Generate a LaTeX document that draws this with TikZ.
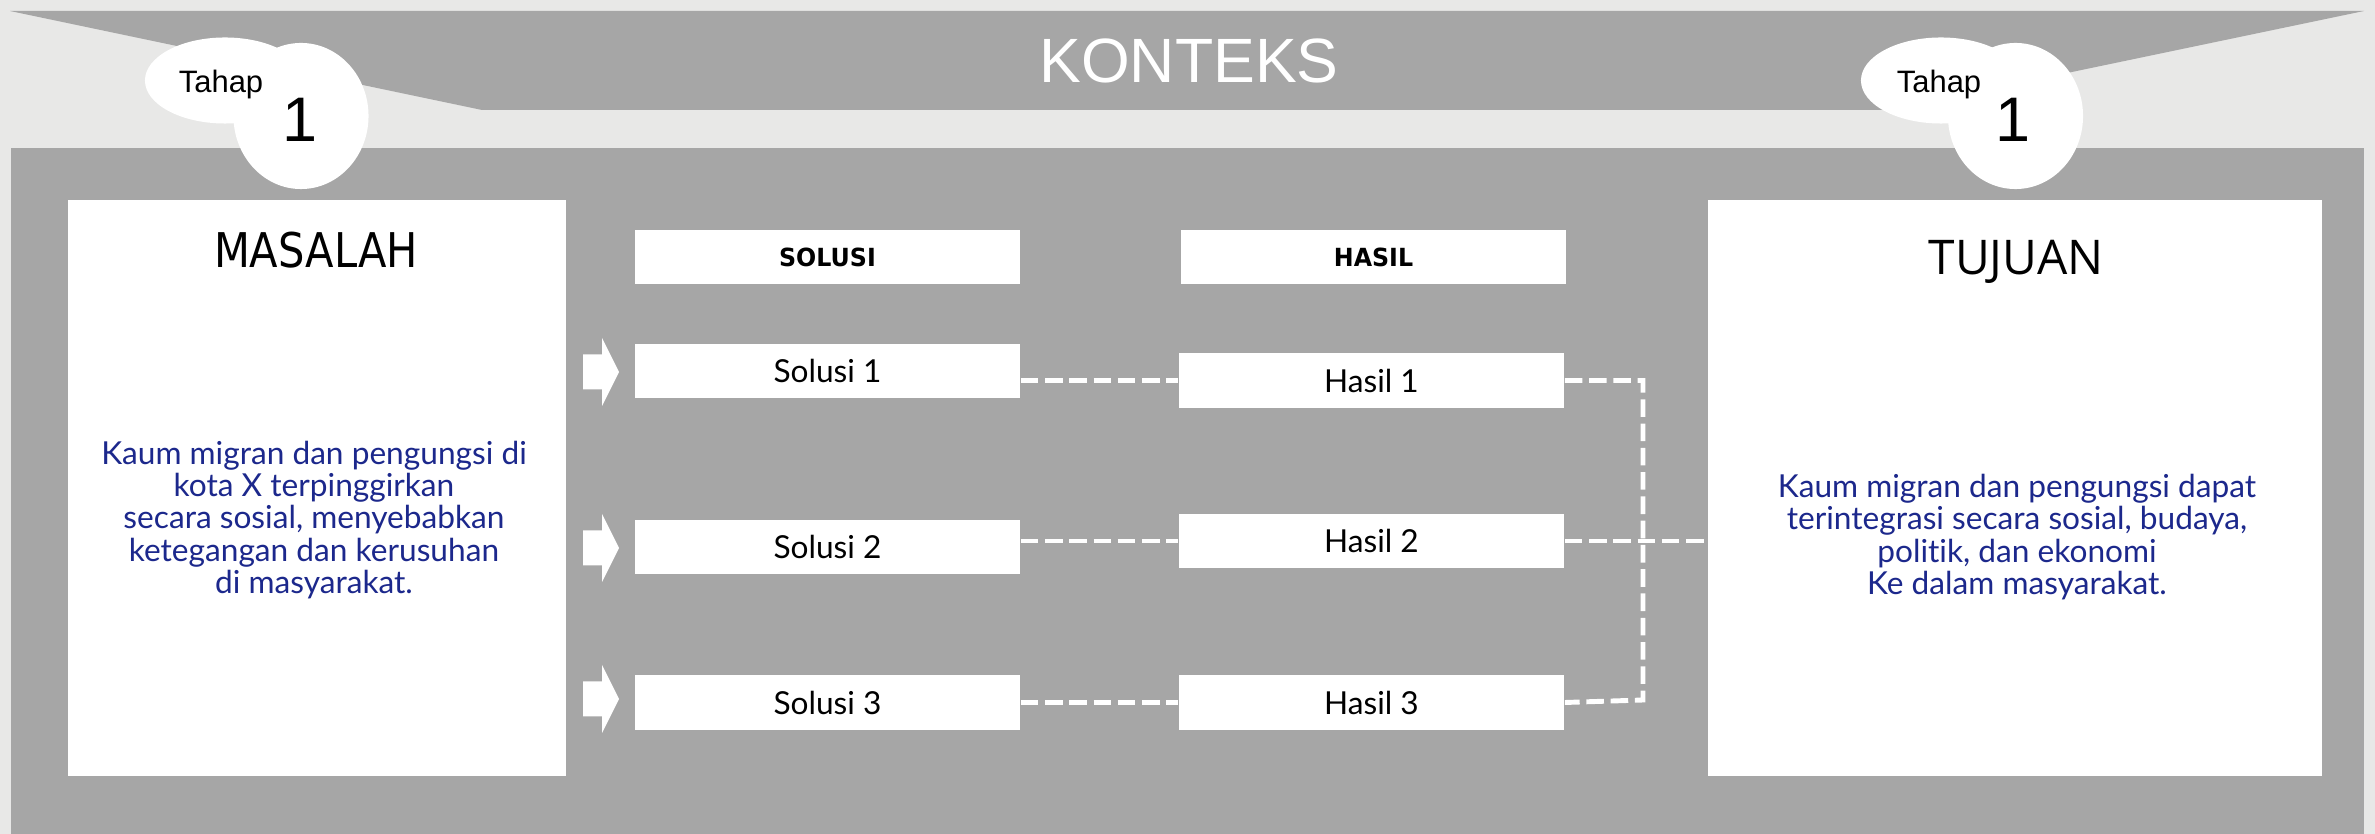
\documentclass[tikz,border=0pt]{standalone}
\usepackage{fontspec}
\setmainfont{Liberation Sans}
\newfontfamily\arialf{Liberation Sans}
\newfontfamily\tahomaf[FakeStretch=0.87]{DejaVu Sans}
\newfontfamily\tahomabf[FakeStretch=0.95]{DejaVu Sans Bold}
\newfontfamily\segoef{Open Sans}
\newfontfamily\handf[Ligatures=NoCommon]{Lato}
\usetikzlibrary{shapes.geometric}
\definecolor{bgpage}{HTML}{E8E8E7}
\definecolor{panel}{HTML}{A6A6A6}
\definecolor{inkblue}{RGB}{28,40,140}
\tikzset{
  smallbox/.style={fill=white, draw=none, inner sep=0pt, minimum width=3.85cm, minimum height=0.54cm},
  bigbox/.style={fill=white, draw=none, inner sep=0pt, minimum height=5.76cm},
  headtxt/.style={font=\tahomabf\fontsize{7.1}{8}\selectfont},
  itemtxt/.style={font=\handf\fontsize{9}{10}\selectfont},
  bluetxt/.style={font=\handf\fontsize{9.0}{9.15}\selectfont, text=inkblue, align=center, inner sep=0pt},
  wdash/.style={draw=white, line width=1.4pt, dash pattern=on 5pt off 1.9pt},
  bubble/.style={ellipse, fill=white, draw=none, inner sep=0pt},
  blockarrow/.pic={\fill[white] (-19,-17.5) -- (0,-17.5) -- (0,-34) -- (17,0) -- (0,34) -- (0,17.5) -- (-19,17.5) -- cycle;}
}
\begin{document}
\begin{tikzpicture}[x=0.01cm, y=-0.01cm]
\useasboundingbox (0,0) rectangle (2375,834);
\fill[bgpage] (0,0) rectangle (2375,834);
% banner
\fill[panel] (10,11) -- (2364,11) -- (1890,110) -- (482,110) -- cycle;
\node[anchor=base, text=white, font=\arialf\fontsize{17.8}{20}\selectfont, inner sep=0pt] (konteks) at (1189,83) {KONTEKS};
% main panel
\fill[panel] (11,148) rectangle (2364,834);
% bubbles
\node[bubble, minimum width=1.6cm, minimum height=0.86cm] (lsmall) at (225,80.5) {};
\node[bubble, minimum width=1.35cm, minimum height=1.46cm] (lbig) at (301,116) {};
\node[bubble, minimum width=1.6cm, minimum height=0.86cm] (rsmall) at (1941,80.5) {};
\node[bubble, minimum width=1.35cm, minimum height=1.46cm] (rbig) at (2015.5,116) {};
\node[anchor=base, font=\arialf\fontsize{8.8}{10}\selectfont, inner sep=0pt] (ltahap) at (221,93) {Tahap};
\node[anchor=base, font=\arialf\fontsize{17.9}{20}\selectfont, inner sep=0pt] (lone) at (300,142) {1};
\node[anchor=base, font=\arialf\fontsize{8.8}{10}\selectfont, inner sep=0pt] (rtahap) at (1939,93) {Tahap};
\node[anchor=base, font=\arialf\fontsize{17.9}{20}\selectfont, inner sep=0pt] (rone) at (2013,142) {1};
% big boxes
\node[bigbox, minimum width=4.98cm] (masalah) at (317,488) {};
\node[bigbox, minimum width=6.14cm] (tujuan) at (2015,488) {};
\node[anchor=base, font=\tahomaf\fontsize{13.6}{16}\selectfont, inner sep=0pt] (masalahT) at (316,268) {MASALAH};
\node[anchor=base, font=\segoef\fontsize{13.6}{16}\selectfont, inner sep=0pt] (tujuanT) at (2016,275) {TUJUAN};
\node[bluetxt] (masalahX) at (314,520) {Kaum migran dan pengungsi di\\kota X terpinggirkan\\secara sosial, menyebabkan\\ketegangan dan kerusuhan\\di masyarakat.};
\node[bluetxt] (tujuanX) at (2017,537) {Kaum migran dan pengungsi dapat\\terintegrasi secara sosial, budaya,\\politik, dan ekonomi\\Ke dalam masyarakat.};
% headers
\node[smallbox, headtxt] (solusiH) at (827.5,257) {SOLUSI};
\node[smallbox, headtxt] (hasilH) at (1373.5,257) {HASIL};
% items
\node[smallbox, itemtxt] (s1) at (827.5,371) {Solusi 1};
\node[smallbox, itemtxt] (s2) at (827.5,547) {Solusi 2};
\node[smallbox, itemtxt] (s3) at (827.5,702.5) {Solusi 3};
\node[smallbox, itemtxt, minimum height=0.55cm] (h1) at (1371.5,380.5) {Hasil 1};
\node[smallbox, itemtxt] (h2) at (1371.5,541) {Hasil 2};
\node[smallbox, itemtxt] (h3) at (1371.5,702.5) {Hasil 3};
% block arrows
\pic at (602,372) {blockarrow};
\pic at (602,548) {blockarrow};
\pic at (602,699) {blockarrow};
% connectors
\coordinate (j1) at (1643,380.5);
\coordinate (j3) at (1643,700);
\draw[wdash] (s1.east |- h1.west) -- (h1.west);
\draw[wdash] (s2.east |- h2.west) -- (h2.west);
\draw[wdash] (s3.east) -- (h3.west);
\draw[wdash] (h1.east) -- (j1) -- (j3) -- (h3.east);
\draw[wdash] (h2.east) -- (tujuan.west |- h2.east);
\end{tikzpicture}
\end{document}
